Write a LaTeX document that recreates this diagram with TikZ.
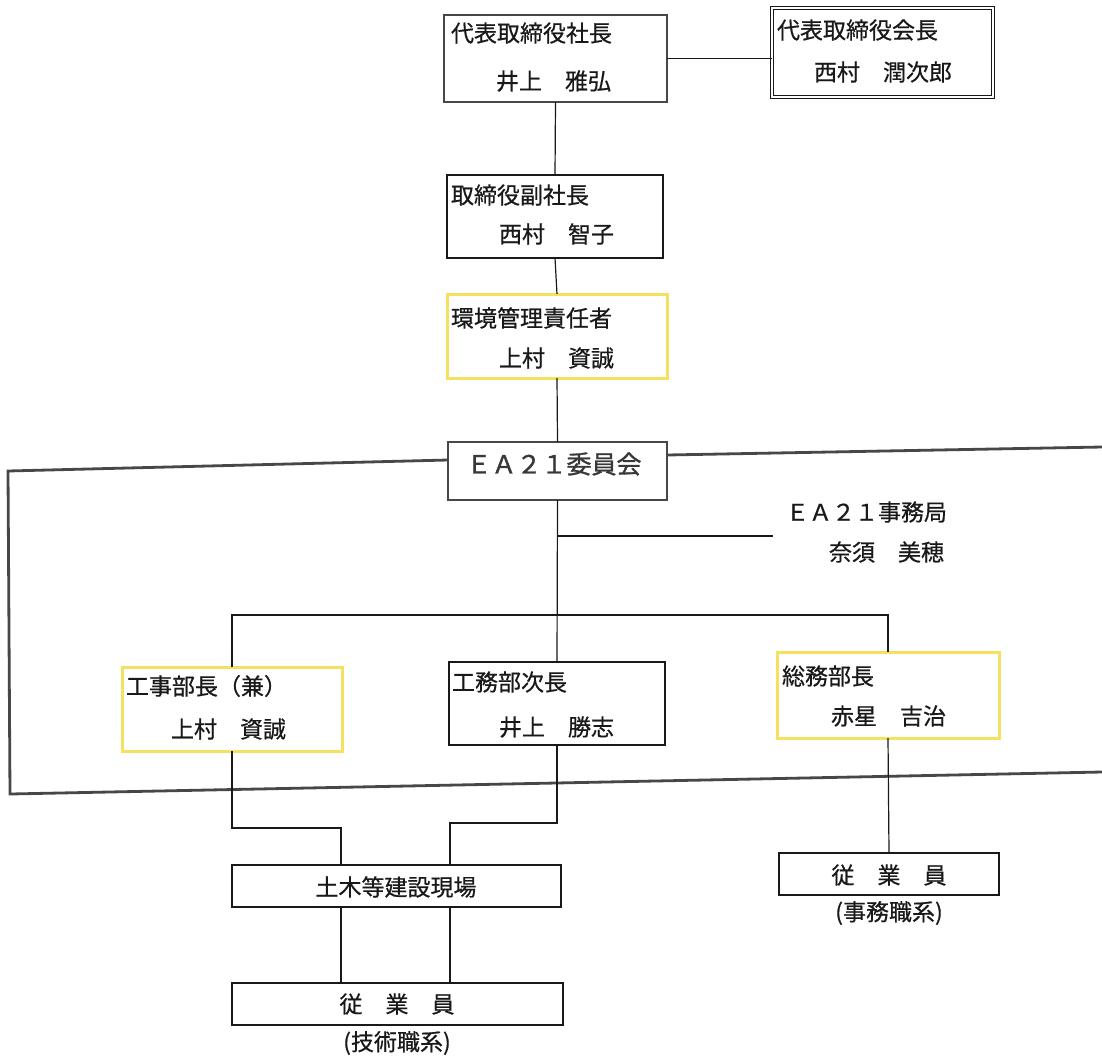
\documentclass[tikz,border=0pt]{standalone}
\usepackage{fontspec}
\setmainfont{Noto Sans CJK JP}
\newfontfamily\jpheavy{Noto Sans CJK JP}[FakeBold=0.6]
\newfontfamily\jpbold{Noto Sans CJK JP}[FakeBold=1.2]
\definecolor{boxyellow}{RGB}{245,224,95}
\definecolor{ink}{RGB}{25,25,25}
\begin{document}
\begin{tikzpicture}[x=1pt,y=-1pt,
  every node/.style={inner sep=0pt, outer sep=0pt},
  txt/.style={anchor=west, text=ink, font=\jpheavy\fontsize{23}{27}\selectfont},
  ctxt/.style={anchor=center, text=ink, font=\jpheavy\fontsize{23}{27}\selectfont},
  thinbox/.style={draw=ink, line width=1.2pt, anchor=north west},
  thickbox/.style={draw=black!72, line width=2.8pt, anchor=north west},
  dblbox/.style={draw=ink, line width=0.9pt, double=white, double distance=2.2pt, anchor=north west},
  yelbox/.style={draw=boxyellow, line width=3pt, anchor=north west},
  conn/.style={draw=ink, line width=1.2pt},
  frameline/.style={draw=black!72, line width=2.8pt, line join=miter}
]
\useasboundingbox (0,0) rectangle (1102,1055);
\fill[white] (0,0) rectangle (1102,1055);

% boxes
\node[thickbox, minimum width=223pt, minimum height=87pt] (pres) at (444,15) {};
\node[dblbox, minimum width=221pt, minimum height=89pt] (chair) at (772,8) {};
\node[thinbox, minimum width=216pt, minimum height=83pt] (vp) at (447,175) {};
\node[yelbox, minimum width=220pt, minimum height=84pt] (env) at (447,294) {};
\node[thickbox, minimum width=219pt, minimum height=58pt] (ea) at (448,442) {};
\node[yelbox, minimum width=220pt, minimum height=84pt] (kouji) at (122,667) {};
\node[thinbox, minimum width=216pt, minimum height=83pt] (koumu) at (449,662) {};
\node[yelbox, minimum width=222pt, minimum height=86pt] (soumu) at (777,652) {};
\node[thinbox, minimum width=329pt, minimum height=42pt] (doboku) at (232,865) {};
\node[thinbox, minimum width=331pt, minimum height=42pt] (emp1) at (232,983) {};
\node[thinbox, minimum width=220pt, minimum height=42pt] (emp2) at (779,853) {};

% texts
\node[txt] (t1a) at (451,33) {代表取締役社長};
\node[txt] (t1b) at (496,81) {井上　雅弘};
\node[txt] (t2a) at (777,30) {代表取締役会長};
\node[txt] (t2b) at (814,72) {西村　潤次郎};
\node[txt] (t3a) at (451,195) {取締役副社長};
\node[txt] (t3b) at (499,234) {西村　智子};
\node[txt] (t4a) at (451,318) {環境管理責任者};
\node[txt] (t4b) at (499,358) {上村　資誠};
\node[ctxt, text=black!78, font=\jpbold\fontsize{25}{29}\selectfont] (t5) at (554,464) {ＥＡ２１委員会};
\node[txt] (t6a) at (786,512) {ＥＡ２１事務局};
\node[txt] (t6b) at (829,552) {奈須　美穂};
\node[txt] (t7a) at (126,686) {工事部長（兼）};
\node[txt] (t7b) at (171,729) {上村　資誠};
\node[txt] (t8a) at (452,682) {工務部次長};
\node[txt] (t8b) at (499,727) {井上　勝志};
\node[txt] (t9a) at (782,676) {総務部長};
\node[txt] (t9b) at (831,716) {赤星　吉治};
\node[ctxt] (t10) at (396,887) {土木等建設現場};
\node[ctxt] (t11) at (397,1004) {従　業　員};
\node[ctxt] (t11b) at (397,1043) {(技術職系)};
\node[ctxt] (t12) at (889,875) {従　業　員};
\node[ctxt] (t12b) at (889,913) {(事務職系)};

% frame around committee
\coordinate (fTL) at (8,471);
\coordinate (fBL) at (10,794);
\coordinate (fBR) at (1102,772);
\coordinate (fTR) at (1102,447);
\draw[frameline] ([yshift=11pt]ea.west) -- (fTL) -- (fBL) -- (fBR);
\draw[frameline] ([yshift=16pt]ea.east) -- (fTR);

% connectors
\coordinate (sec) at (773,536);
\coordinate (bar) at (232,615);
\coordinate (dl) at (341,828);
\coordinate (dr) at (450,823);
\draw[conn] (pres.east) -- (pres.east -| chair.west);
\draw[conn] (pres.south) -- (vp.north);
\draw[conn] (vp.south) -- (env.north);
\draw[conn] (env.south) -- (ea.north);
\draw[conn] (ea.south) -- (koumu.north);
\draw[conn] (ea.south |- sec) -- (sec);
\draw[conn] (kouji.north) -- (kouji.north |- bar) -- (soumu.north |- bar) -- (soumu.north);
\draw[conn] (kouji.south) |- (dl) -- (dl |- doboku.north);
\draw[conn] (koumu.south) |- (dr) -- (dr |- doboku.north);
\draw[conn] (dl |- doboku.south) -- (dl |- emp1.north);
\draw[conn] (dr |- doboku.south) -- (dr |- emp1.north);
\draw[conn] (soumu.south) -- (emp2.north);
\end{tikzpicture}
\end{document}
